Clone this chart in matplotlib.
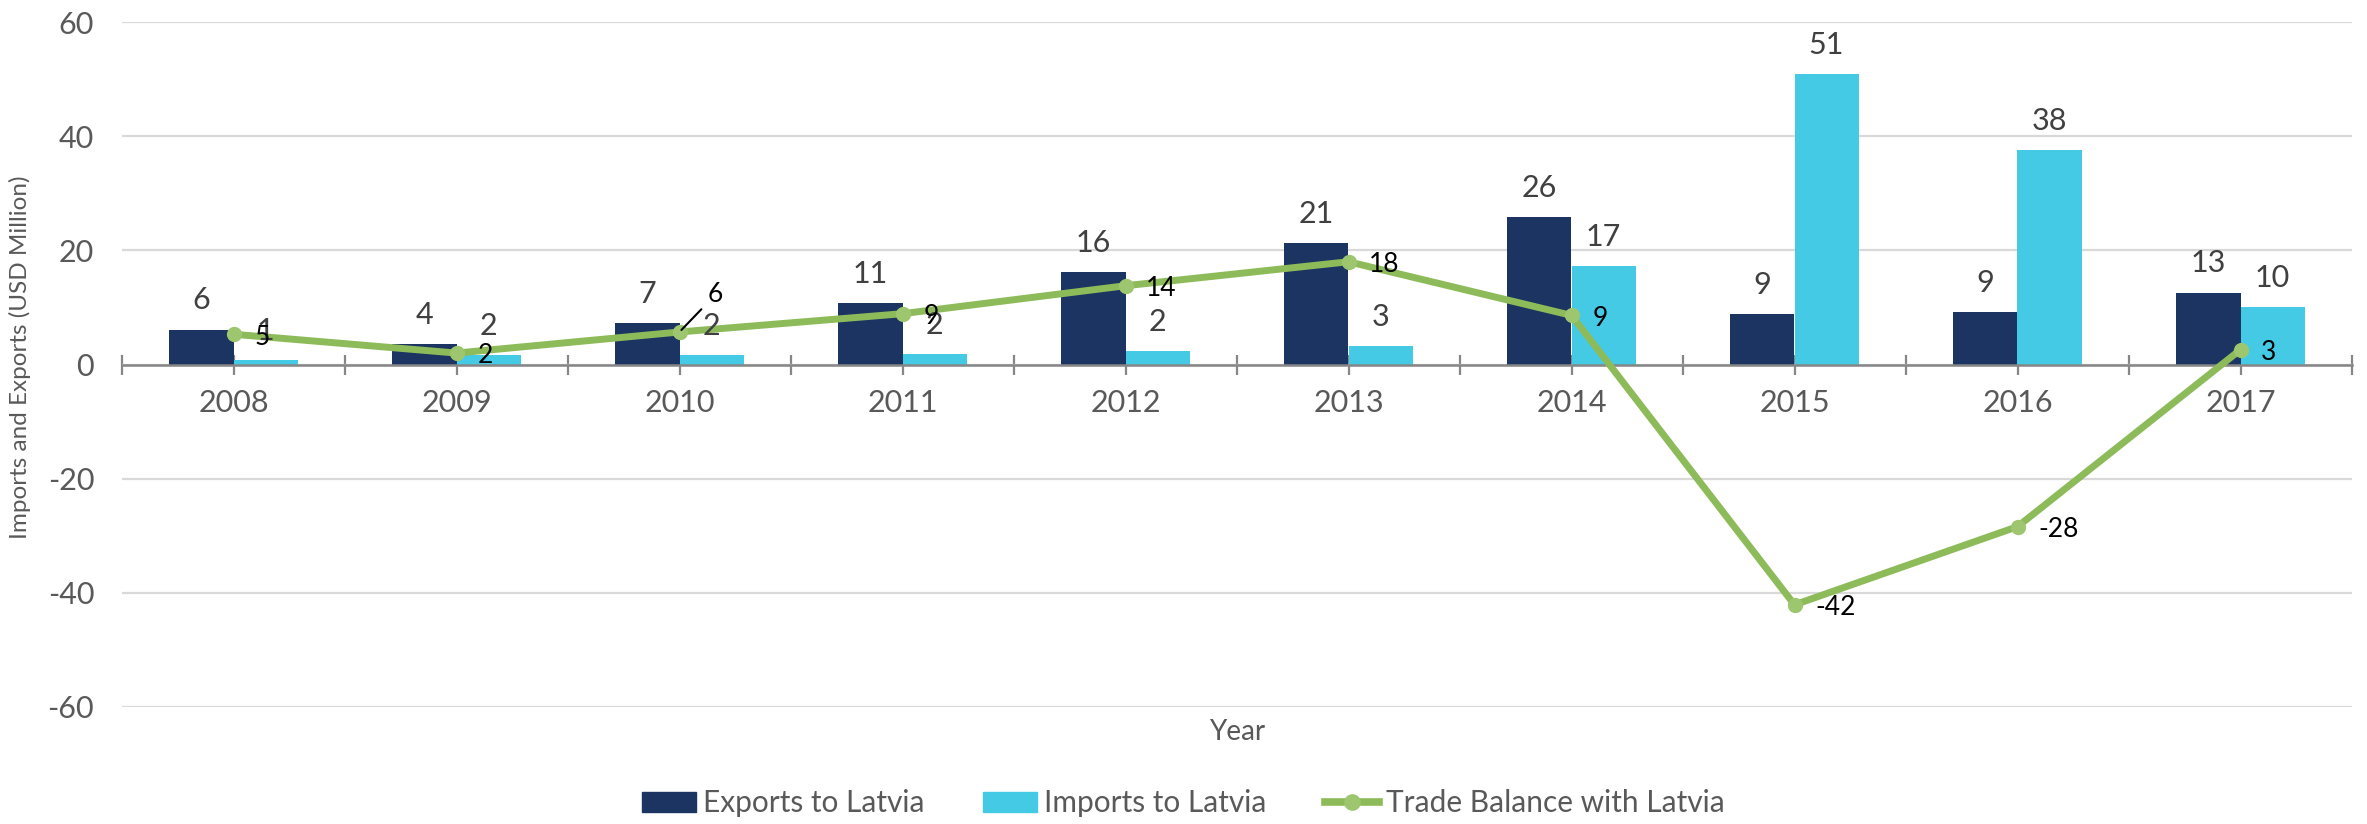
import numpy as np
import matplotlib
matplotlib.use("Agg")
import matplotlib.pyplot as plt
from matplotlib.patches import Patch
from matplotlib.lines import Line2D

plt.rcParams['font.family'] = ['Lato', 'DejaVu Sans']

years = ["2008", "2009", "2010", "2011", "2012", "2013", "2014", "2015", "2016", "2017"]
exports = [6.1, 3.6, 7.2, 10.7, 16.2, 21.2, 25.8, 8.8, 9.2, 12.6]
imports = [0.8, 1.6, 1.6, 1.8, 2.4, 3.2, 17.2, 50.9, 37.6, 10.1]
balance = [5.3, 2.0, 5.7, 8.9, 13.8, 18.0, 8.6, -42.1, -28.4, 2.6]
yticks = [-60, -40, -20, 0, 20, 40, 60]

c_exp = "#1B3461"
c_imp = "#45CAE6"
c_line = "#8DBB5A"
c_mark = "#9DC66E"
c_text = "#595959"

fig = plt.figure(figsize=(23.67, 8.24), dpi=100)
ax = fig.add_axes([122/2367, 1-707/824, 2230/2367, 685/824])

x = np.arange(len(years))
w = 0.287
ax.bar(x - w/2, exports, w, color=c_exp, zorder=2)
ax.bar(x + w/2, imports, w, color=c_imp, zorder=2)
ax.plot(x, balance, color=c_line, lw=5, marker='o', ms=10,
        mfc=c_mark, mec=c_mark, zorder=4)

for xi, v in zip(x, exports):
    ax.annotate(f"{v:.0f}", (xi - w/2, v), xytext=(0, 11), textcoords='offset points',
                ha='center', va='bottom', fontsize=22, color="#404040", zorder=5)
for xi, v in zip(x, imports):
    ax.annotate(f"{v:.0f}", (xi + w/2, v), xytext=(0, 11), textcoords='offset points',
                ha='center', va='bottom', fontsize=22, color="#404040", zorder=5)
for i, (xi, v) in enumerate(zip(x, balance)):
    if i == 2:
        # label moved up-right with a leader line, as in the original
        ax.annotate(f"{v:.0f}", (xi, v), xytext=(26, 27), textcoords='offset points',
                    ha='center', va='center', fontsize=19, color="black", zorder=6,
                    arrowprops=dict(arrowstyle='-', color='black', lw=1.5,
                                    shrinkA=4, shrinkB=2))
    else:
        ax.annotate(f"{v:.0f}", (xi, v), xytext=(15, -2), textcoords='offset points',
                    ha='left', va='center', fontsize=19, color="black", zorder=6)

ax.set_xlim(-0.5, len(years) - 0.5)
ax.set_ylim(-60, 60)
ax.set_yticks(yticks)
ax.set_yticklabels([str(t) for t in yticks])
ax.grid(axis='y', color="#D9D9D9", lw=1.6, zorder=0)
ax.set_axisbelow(True)

for s in ['top', 'right', 'left']:
    ax.spines[s].set_visible(False)
ax.spines['bottom'].set_position(('data', 0))
ax.spines['bottom'].set_color("#868686")
ax.spines['bottom'].set_linewidth(1.8)
ax.spines['bottom'].set_zorder(3)

ax.set_xticks(x)
ax.set_xticklabels(years)
ax.set_xticks(np.arange(-0.5, len(years), 1.0), minor=True)
ax.tick_params(axis='x', which='both', direction='inout', length=14, width=1.6,
               color="#868686", pad=11, labelsize=22, labelcolor=c_text)
ax.tick_params(axis='y', length=0, pad=20, labelsize=22, labelcolor=c_text)

ax.set_xlabel("Year", fontsize=20, color=c_text)
ax.xaxis.set_label_coords(0.5, -0.0175)
ax.set_ylabel("Imports and Exports (USD Million)", fontsize=17.5, color=c_text)
ax.yaxis.set_label_coords(-0.041, 0.511)

handles = [Patch(color=c_exp, label="Exports to Latvia"),
           Patch(color=c_imp, label="Imports to Latvia"),
           Line2D([0], [0], color=c_line, lw=5.5, marker='o', ms=11,
                  mfc=c_mark, mec=c_mark, label="Trade Balance with Latvia")]
leg = fig.legend(handles=handles, loc='center', bbox_to_anchor=(0.5, 0.025), ncol=3,
                 frameon=False, fontsize=21.5, handlelength=1.8, handleheight=0.64,
                 handletextpad=0.25, columnspacing=1.95)
for t in leg.get_texts():
    t.set_color(c_text)

fig.savefig("out.png", dpi=100)
